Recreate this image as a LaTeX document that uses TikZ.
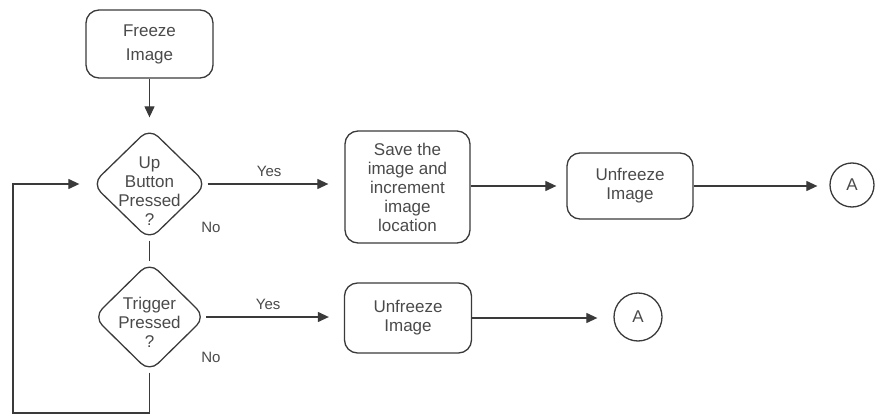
\documentclass[tikz,border=0pt]{standalone}
\usepackage{fontspec}
\setmainfont{Liberation Sans}
\usetikzlibrary{shapes.geometric,arrows.meta}
\definecolor{ln}{HTML}{3A3A3A}
\definecolor{tx}{HTML}{4A4A4A}
\begin{document}
\begin{tikzpicture}[x=1pt,y=-1pt,
  every node/.style={text=tx,font=\fontsize{17}{19}\selectfont},
  proc/.style={draw=ln,line width=1.3pt,rounded corners=13pt,align=center,inner sep=0pt},
  dec/.style={draw=ln,line width=1.3pt,diamond,rounded corners=12pt,inner sep=0pt},
  dtext/.style={align=center,inner sep=0pt},
  conn/.style={draw=ln,line width=1.3pt,circle,inner sep=0pt},
  arr/.style={draw=ln,line width=1.2pt,-{Triangle[length=11pt,width=10pt]}},
  ln/.style={draw=ln,line width=1.2pt},
  lbl/.style={font=\fontsize{15}{17}\selectfont}]
\useasboundingbox (0,0) rectangle (881,417);
\node[proc,minimum width=127pt,minimum height=68pt,font=\fontsize{17}{24}\selectfont] (freeze) at (149.5,44) {Freeze\\Image};
\node[dec,minimum width=115pt,minimum height=112pt] (up) at (149.5,184) {};
\node[dtext] (uptext) at (149.5,191) {Up\\Button\\Pressed\\?};
\node[dec,minimum width=112pt,minimum height=110pt] (trig) at (149.5,317) {};
\node[dtext] (trigtext) at (149.5,322) {Trigger\\Pressed\\?};
\node[proc,minimum width=125pt,minimum height=112pt] (save) at (407.5,187) {Save the\\image and\\increment\\image\\location};
\node[proc,minimum width=126pt,minimum height=66pt] (unf1) at (630,186) {Unfreeze\\Image};
\node[proc,minimum width=127pt,minimum height=70pt] (unf2) at (408,318) {Unfreeze\\Image};
\node[conn,minimum size=44pt] (a1) at (852,185) {A};
\node[conn,minimum size=48pt] (a2) at (638,317) {A};
\coordinate (lb) at (13,413);
\coordinate (lt) at (13,184);
\coordinate (tb) at (149.5,413);
\draw[arr,shorten >=10pt] (freeze) -- (up);
\draw[ln] (up.south) -- (trig.north);
\draw[arr,shorten >=16pt] (up.east) -- node[lbl,above=3pt,pos=0.45] (y1) {Yes} (save.west |- up.east);
\draw[arr,shorten >=15pt] (trig.east) -- node[lbl,above=3pt,pos=0.45] (y2) {Yes} (unf2.west |- trig.east);
\draw[arr,shorten >=10pt] (save.east |- unf1.west) -- (unf1.west);
\draw[arr,shorten >=12pt] (unf1.east) -- (a1.west |- unf1.east);
\draw[arr,shorten >=16pt] (unf2.east) -- (a2.west |- unf2.east);
\draw[arr,shorten >=12pt] (trig.south) -- (tb) -- (lb) -- (lt) -- (up.west);
\node[lbl] (n1) at (211,227) {No};
\node[lbl] (n2) at (211,357) {No};
\end{tikzpicture}
\end{document}
